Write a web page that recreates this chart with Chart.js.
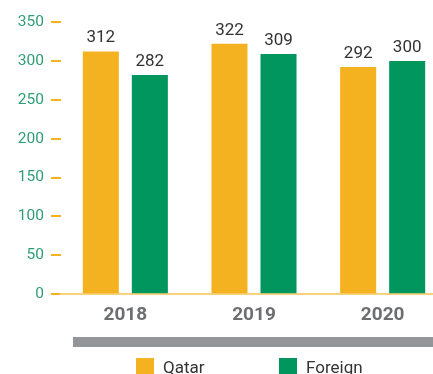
<!DOCTYPE html>
<html>
<head>
<meta charset="utf-8">
<script src="https://cdn.jsdelivr.net/npm/chart.js@4"></script>
<style>
  html, body { margin: 0; padding: 0; background: #fff; }
  #wrap { position: relative; width: 433px; height: 374px; overflow: hidden; font-family: Roboto, sans-serif; }
  #chartBox { position: absolute; left: 0; top: 0; width: 447px; height: 342px; }
  #band { position: absolute; left: 73px; top: 337px; width: 370px; height: 10px; background: #939598; }
  #legend { position: absolute; left: 136px; top: 358px; display: flex; }
  .item { display: flex; align-items: center; width: 143px; }
  .swatch { width: 18px; height: 18px; margin-right: 9px; }
  .item span { font-size: 17px; color: #333; line-height: 18px; }
</style>
</head>
<body>
<div id="wrap">
  <div id="chartBox"><canvas id="myChart" width="447" height="342"></canvas></div>
  <div id="band"></div>
  <div id="legend"></div>
</div>
<script>
// datos del grafico
const years = ['2018', '2019', '2020'];
const qatar = [312, 322, 292];
const foreign = [282, 309, 300];
const seriesNames = ['Qatar', 'Foreign'];
const seriesColors = ['#F4B120', '#00965E'];
const yMax = 350;
const yStep = 50;

// escribir el valor encima de cada barra
const valueLabels = {
    id: 'valueLabels',
    afterDatasetsDraw(chart) {
        const ctx = chart.ctx;
        ctx.save();
        ctx.font = '17px Roboto';
        ctx.fillStyle = '#333333';
        ctx.textAlign = 'center';
        ctx.textBaseline = 'bottom';
        chart.data.datasets.forEach((ds, i) => {
            chart.getDatasetMeta(i).data.forEach((bar, j) => {
                ctx.fillText(ds.data[j], bar.x, bar.y - 5);
            });
        });
        ctx.restore();
    }
};

const ctx = document.getElementById('myChart').getContext('2d');
const myChart = new Chart(ctx, {
    type: 'bar',
    data: {
        labels: years,
        datasets: [qatar, foreign].map((values, i) => ({
            label: seriesNames[i],
            data: values,
            backgroundColor: seriesColors[i],
            borderWidth: 0,
            categoryPercentage: 0.762,
            barPercentage: 0.735
        }))
    },
    options: {
        responsive: false,
        animation: false,
        layout: { padding: { top: 22, bottom: 5, left: 0, right: 0 } },
        plugins: {
            legend: { display: false },
            tooltip: { enabled: false }
        },
        scales: {
            x: {
                grid: { display: false, drawTicks: false },
                border: { display: true, color: '#F8D27C', width: 2 },
                ticks: {
                    padding: 10,
                    color: '#6D6E71',
                    font: { family: 'Roboto', size: 19, weight: 'bold' }
                }
            },
            y: {
                min: 0,
                max: yMax,
                afterFit: (scale) => { scale.width = 61; },
                grid: {
                    drawOnChartArea: false,
                    drawTicks: true,
                    tickLength: 10,
                    color: '#F4B120',
                    lineWidth: 2
                },
                border: { display: false },
                ticks: {
                    stepSize: yStep,
                    padding: 7,
                    color: '#2E9E72',
                    font: { family: 'Roboto', size: 15.5 }
                }
            }
        }
    },
    plugins: [valueLabels]
});

// leyenda en html
const legend = document.getElementById('legend');
seriesNames.forEach((name, i) => {
    const item = document.createElement('div');
    item.className = 'item';
    item.innerHTML = `<div class="swatch" style="background:${seriesColors[i]}"></div><span>${name}</span>`;
    legend.appendChild(item);
});
</script>
</body>
</html>
